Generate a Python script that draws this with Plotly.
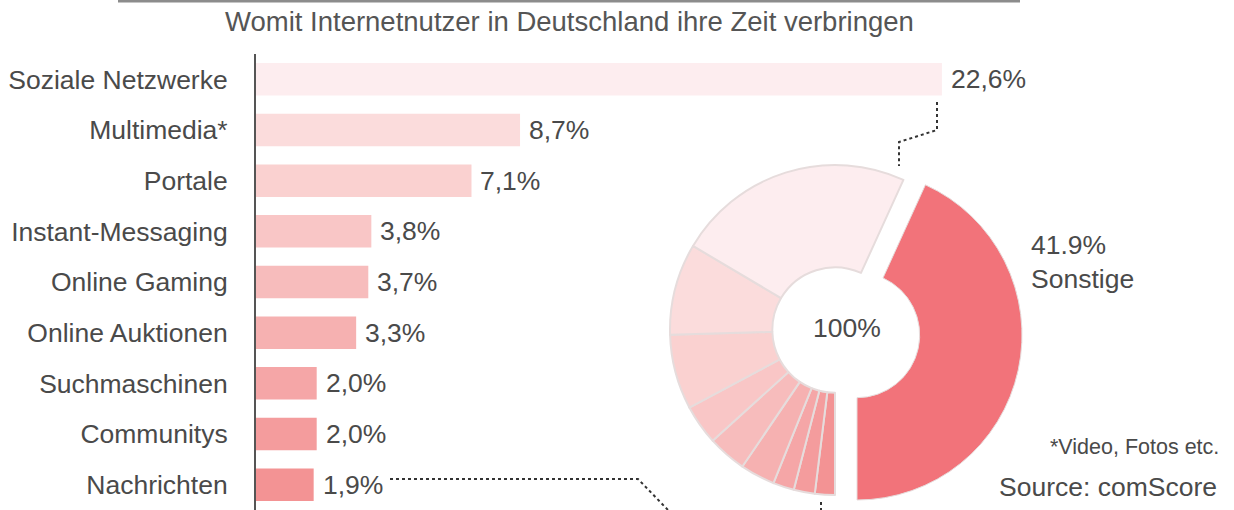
import plotly.graph_objects as go

W, H = 1234, 510

# Time share per category (percent), top to bottom
categories = ["Soziale Netzwerke", "Multimedia*", "Portale", "Instant-Messaging",
              "Online Gaming", "Online Auktionen", "Suchmaschinen", "Communitys",
              "Nachrichten"]
shares = [22.6, 8.7, 7.1, 3.8, 3.7, 3.3, 2.0, 2.0, 1.9]
bar_colors = ["#fdedef", "#fbdcdc", "#fad1d0", "#f9c6c6", "#f7bcbc",
              "#f6b1b1", "#f5a6a7", "#f49c9d", "#f39394"]

other_label = "Sonstige"
other_share = 41.9
other_color = "#f2737a"

title_text = "Womit Internetnutzer in Deutschland ihre Zeit verbringen"
TEXT = "#4a4a4a"
FONT = "Liberation Sans, Arial, sans-serif"
FS = 26.5


def px_x(x):
    return x / W


def px_y(y):
    return 1 - y / H


fig = go.Figure()

# Horizontal bars
fig.add_trace(go.Bar(
    x=shares, y=categories, orientation="h",
    marker=dict(color=bar_colors, line=dict(width=0)),
    hoverinfo="skip", showlegend=False,
    xaxis="x", yaxis="y",
))

# Donut: slices start with "Sonstige" then go clockwise from the bottom
pie_labels = [other_label] + categories[::-1]
pie_values = [other_share] + shares[::-1]
pie_colors = [other_color] + bar_colors[::-1]
total = sum(pie_values)
rotation = 180 - other_share / total * 360
line_col = "#e6dcdc"
n = len(pie_values)

# ring without the "Sonstige" slice
fig.add_trace(go.Pie(
    labels=pie_labels, values=pie_values, sort=False, direction="clockwise",
    rotation=rotation, hole=0.38, textinfo="none", hoverinfo="skip",
    showlegend=False,
    marker=dict(colors=["rgba(0,0,0,0)"] + pie_colors[1:],
                line=dict(color=["rgba(0,0,0,0)"] + [line_col] * (n - 1), width=2)),
    domain=dict(x=[px_x(670), px_x(1000)], y=[px_y(495), px_y(165)]),
))
# the "Sonstige" slice, set apart from the ring
fig.add_trace(go.Pie(
    labels=pie_labels, values=pie_values, sort=False, direction="clockwise",
    rotation=rotation, hole=0.38, textinfo="none", hoverinfo="skip",
    showlegend=False,
    marker=dict(colors=[other_color] + ["rgba(0,0,0,0)"] * (n - 1),
                line=dict(color=[line_col] + ["rgba(0,0,0,0)"] * (n - 1), width=1)),
    domain=dict(x=[px_x(692), px_x(1022)], y=[px_y(500), px_y(170)]),
))

annotations = []
# value labels next to bars
for c, v in zip(categories, shares):
    annotations.append(dict(
        x=v, y=c, xref="x", yref="y", xanchor="left", yanchor="middle",
        xshift=7, showarrow=False,
        text=f"{v:.1f}".replace(".", ",") + "%",
        font=dict(size=FS, color=TEXT, family=FONT),
    ))

annotations += [
    dict(x=px_x(569), y=px_y(22), xref="paper", yref="paper", showarrow=False,
         text=title_text, xanchor="center", yanchor="middle",
         font=dict(size=27.5, color="#555555", family=FONT)),
    dict(x=px_x(847), y=px_y(328), xref="paper", yref="paper", showarrow=False,
         text="100%", xanchor="center", yanchor="middle",
         font=dict(size=FS, color=TEXT, family=FONT)),
    dict(x=px_x(1029), y=px_y(262), xref="paper", yref="paper", showarrow=False,
         text=f"{other_share:.1f}%<br>{other_label}", xanchor="left", yanchor="middle",
         align="left", font=dict(size=FS, color=TEXT, family=FONT)),
    dict(x=px_x(1221), y=px_y(447), xref="paper", yref="paper", showarrow=False,
         text="*Video, Fotos etc.", xanchor="right", yanchor="middle",
         font=dict(size=21.5, color=TEXT, family=FONT)),
    dict(x=px_x(1219), y=px_y(487), xref="paper", yref="paper", showarrow=False,
         text="Source: comScore", xanchor="right", yanchor="middle",
         font=dict(size=FS, color=TEXT, family=FONT)),
]

dot = dict(color="#333333", width=2, dash="dot")
shapes = [
    # rule at the top
    dict(type="line", xref="paper", yref="paper", x0=px_x(118), x1=px_x(1020),
         y0=px_y(1), y1=px_y(1), line=dict(color="#8c8c8c", width=3)),
    # connector from the largest bar to the ring
    dict(type="path", xref="paper", yref="paper",
         path=f"M {px_x(937)},{px_y(102)} L {px_x(937)},{px_y(130)} "
              f"L {px_x(899)},{px_y(142)} L {px_x(899)},{px_y(166)}",
         line=dot),
    # connector from the smallest bar to the ring
    dict(type="path", xref="paper", yref="paper",
         path=f"M {px_x(390)},{px_y(479)} L {px_x(638)},{px_y(479)} "
              f"L {px_x(668)},{px_y(510)}",
         line=dot),
    dict(type="line", xref="paper", yref="paper", x0=px_x(821), x1=px_x(821),
         y0=px_y(502), y1=px_y(510), line=dot),
]

fig.update_layout(
    width=W, height=H,
    margin=dict(l=0, r=0, t=0, b=0),
    paper_bgcolor="white", plot_bgcolor="rgba(0,0,0,0)",
    bargap=0.36,
    xaxis=dict(domain=[px_x(256), px_x(256 + 30 * 30.35)], range=[0, 30],
               visible=False, fixedrange=True),
    yaxis=dict(domain=[0, px_y(54)], categoryorder="array", categoryarray=categories,
               autorange="reversed", showline=True, linecolor="#555555", linewidth=2,
               ticks="", showgrid=False, zeroline=False, ticklabelstandoff=21,
               tickfont=dict(size=FS, color=TEXT, family=FONT)),
    annotations=annotations,
    shapes=shapes,
    font=dict(family=FONT),
)

fig.write_html("out.html")
